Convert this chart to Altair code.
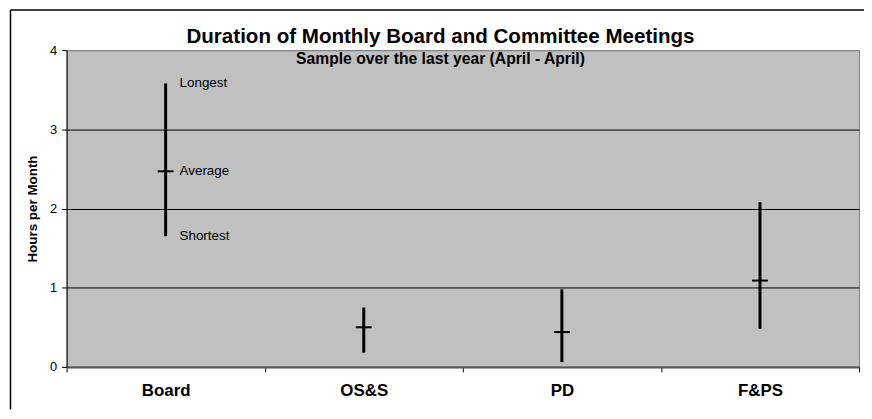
import altair as alt
import pandas as pd

categories = ["Board", "OS&S", "PD", "F&PS"]
shortest = [1.65, 0.18, 0.06, 0.48]
average = [2.47, 0.50, 0.44, 1.09]
longest = [3.58, 0.75, 0.98, 2.08]

ann_labels = ["Longest", "Average", "Shortest"]
ann_values = [longest[0], average[0], shortest[0]]

title_text = "Duration of Monthly Board and Committee Meetings"
subtitle_text = "Sample over the last year (April - April)"

FONT = "Liberation Sans"

df = pd.DataFrame({"cat": categories, "low": shortest, "avg": average, "high": longest})
ann = pd.DataFrame({"cat": [categories[0]] * 3, "v": ann_values, "lab": ann_labels})

xenc = alt.X(
    "cat:N",
    sort=categories,
    scale=alt.Scale(paddingInner=0, paddingOuter=0),
    axis=alt.Axis(
        title=None, labelAngle=0, tickBand="extent", tickSize=5, tickColor="#000",
        labelFont=FONT, labelFontSize=17, labelFontWeight="bold", labelColor="#000",
        labelPadding=11, domainColor="#555", domainWidth=2, grid=False,
    ),
)
yscale = alt.Scale(domain=[0, 4], nice=False, zero=True)
yaxis = alt.Axis(
    values=[0, 1, 2, 3, 4], format="d", title="Hours per Month", titleFont=FONT,
    titleFontSize=13.5, titleFontWeight="bold", titleColor="#000", titleX=-34,
    titleY=159.5, titleBaseline="middle", titleAngle=-90, titleAlign="center",
    labelFont=FONT, labelFontSize=13, labelColor="#000", labelPadding=5,
    tickSize=5, tickColor="#000", domainColor="#000", domainWidth=1,
    grid=True,
    gridColor={"condition": {"test": "datum.value === 4", "value": "#808080"}, "value": "#000"},
    gridWidth=1,
)

rules = alt.Chart(df).mark_rule(color="#000", strokeWidth=3).encode(
    x=xenc,
    y=alt.Y("low:Q", scale=yscale, axis=yaxis),
    y2="high:Q",
)
ticks = alt.Chart(df).mark_tick(color="#000", size=16, thickness=2, opacity=1).encode(
    x=alt.X("cat:N", sort=categories),
    y="avg:Q",
)
labels = alt.Chart(ann).mark_text(
    align="left", baseline="middle", dx=14, font=FONT, fontSize=13.5, color="#000"
).encode(x=alt.X("cat:N", sort=categories), y="v:Q", text="lab:N")

title = alt.Chart(pd.DataFrame({"t": [title_text]})).mark_text(
    align="center", baseline="alphabetic", font=FONT, fontSize=20.7, fontWeight="bold", color="#000"
).encode(x=alt.value(376.5), y=alt.value(-7.5), text="t:N")

sub = alt.Chart(pd.DataFrame({"t": [subtitle_text]})).mark_text(
    align="center", baseline="alphabetic", font=FONT, fontSize=15.8, fontWeight="bold", color="#000"
).encode(x=alt.value(376.5), y=alt.value(13.5), text="t:N")

border_left = alt.Chart(pd.DataFrame({"a": [0]})).mark_rule(color="#000", strokeWidth=1.5).encode(
    x=alt.value(-56.5), y=alt.value(-40.5), y2=alt.value(362)
)
border_top = alt.Chart(pd.DataFrame({"a": [0]})).mark_rule(color="#000", strokeWidth=1.5).encode(
    x=alt.value(-56.5), x2=alt.value(810), y=alt.value(-40.5)
)

chart = alt.layer(rules, ticks, labels, title, sub, border_left, border_top).properties(
    width=798,
    height=319,
    autosize=alt.AutoSizeParams(type="none"),
    padding={"left": 59, "top": 41, "right": 5, "bottom": 43},
).configure(background="white").configure_view(
    fill="#C0C0C0", stroke="#808080", strokeWidth=1
)

chart.save("out.html", embed_options={"renderer": "svg", "actions": False})
